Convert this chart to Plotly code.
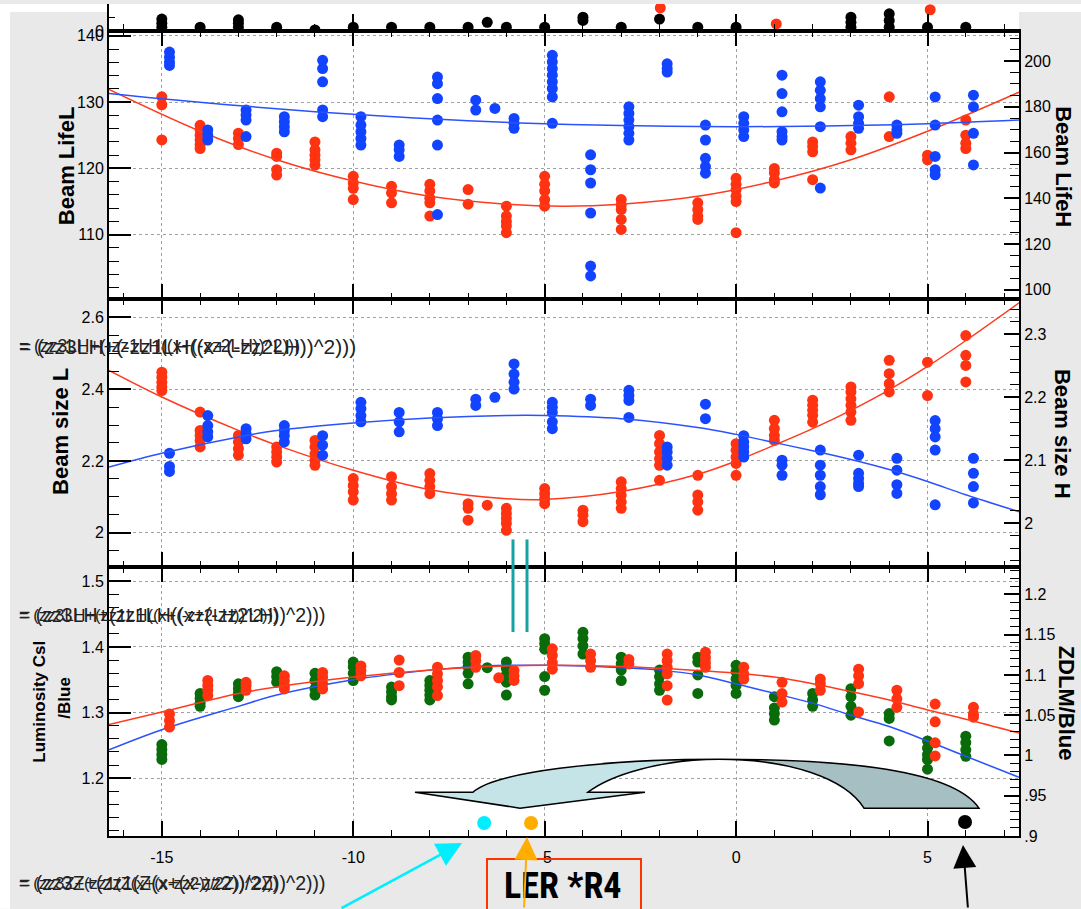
import plotly.graph_objects as go

# ---------------- canvas geometry (pixels) ----------------
W, H = 1081, 909
ML, MR, MT, MB = 109, 62, 0, 73
PW, PH = W - ML - MR, H - MT - MB


def fx(px):
    return (px - ML) / PW


def fy(py):
    return (PH + MT - py) / PH


def P(x, y):
    return f"{fx(x):.5f},{fy(y):.5f}"


def steps(a, b, s):
    out, v = [], a
    while v <= b + 1e-9:
        out.append(round(v, 4))
        v += s
    return out


# ---------------- axes ----------------
X_RANGE = [-16.38, 7.39]
X_MAJOR = [-15, -10, -5, 0, 5]
X_MAJOR_TEXT = ["-15", "-10", "-5", "0", "5"]
X_MINOR = list(range(-16, 8))

# ---------------- data: top strip ----------------
strip_black_x = [-15, -14, -13, -12, -11, -10, -9, -8, -7, -6.5, -6, -5, -4, -3, -2, -1, 0, 3, 4, 5, 6]
strip_black_y = [[4.5, 3.0, 1.5], [1.5], [4.2, 3.0, 1.5], [1.5, 0.5], [0.5], [1.5], [1.5], [1.5], [1.5],
                 [3.3], [1.5], [1.5], [5.2, 4.0], [1.5], [4.5], [1.5], [1.5], [5.2, 3.3, 1.5],
                 [6.4, 4.0, 1.5], [1.5], [1.5]]
strip_red_x = [1.05, -1.98, 5.07]
strip_red_y = [[2.7], [8.6], [7.9]]

# ---------------- data: beam lifetime ----------------
life_L_x = [-15, -14, -13, -12, -11, -10, -9, -8, -7, -6, -5, -3, -1, 0, 1, 2, 3, 4, 5, 6]
life_L_y = [
    [130.8, 129.6, 124.3],
    [126.5, 125.8, 125.0, 124.3, 123.6, 123.0],
    [125.3, 124.5, 123.6],
    [122.3, 121.8, 119.8, 119.0],
    [124.0, 122.8, 122.0, 121.3, 120.5],
    [118.8, 117.8, 117.0, 115.3],
    [117.3, 116.3, 114.8],
    [117.6, 116.6, 115.5, 114.8, 112.8],
    [116.8, 114.6],
    [114.3, 112.8, 112.0, 111.3, 110.3],
    [118.8, 117.6, 116.6, 115.3, 114.3],
    [115.3, 114.5, 113.8, 112.3, 110.8],
    [114.8, 113.8, 112.8, 112.3],
    [118.5, 117.6, 116.8, 115.8, 115.0, 110.3],
    [120.0, 119.3, 118.3, 117.8],
    [124.0, 123.3, 122.5, 118.3],
    [124.8, 123.8, 122.8],
    [130.8, 124.8],
    [122.0, 121.3],
    [127.3, 125.0, 123.8, 123.0],
]
life_H_x = [-14.8, -13.8, -12.8, -11.8, -10.8, -9.8, -8.8, -7.8, -6.8, -6.3, -5.8, -4.8, -3.8, -2.8,
            -1.8, -0.8, 0.2, 1.2, 2.2, 3.2, 4.2, 5.2, 6.2]
life_H_y = [
    [203.9, 201.7, 199.6, 198.1],
    [169.9, 167.7, 165.5],
    [178.6, 176.4, 174.2, 167.0],
    [175.7, 173.5, 171.3, 169.1],
    [200.3, 196.7, 190.9, 178.6, 175.7],
    [175.7, 172.0, 169.1, 166.2, 163.3],
    [163.3, 161.2, 158.3],
    [193.0, 190.1, 183.6, 174.2, 163.3, 132.9],
    [182.9, 178.6],
    [179.3],
    [174.9, 172.8, 170.6],
    [202.5, 199.6, 196.7, 193.8, 190.9, 188.0, 184.3, 172.8],
    [159.0, 152.5, 146.7, 133.6, 110.4, 106.1],
    [180.0, 177.1, 174.2, 171.3, 168.4, 165.5],
    [198.8, 196.7, 195.2],
    [172.0, 165.5, 157.5, 153.9, 151.0],
    [175.7, 172.8, 169.9, 167.0],
    [193.8, 185.8, 177.8, 169.1, 167.0, 165.5],
    [190.9, 187.2, 183.6, 180.0, 171.3, 144.5],
    [180.7, 175.7, 172.8, 170.6],
    [172.0, 169.9, 168.4],
    [184.3, 172.0, 158.3, 152.5, 150.3],
    [185.1, 180.0, 168.4, 154.6],
]
fit_life_L_x = [-16.38, -14, -12, -10, -8, -6, -4.5, -3, -1, 1, 3, 5, 7.39]
fit_life_L_y = [131.9, 125.6, 121.3, 118.1, 115.8, 114.6, 114.3, 114.6, 115.8, 118.1, 121.3, 125.6, 131.5]
fit_life_H_x = [-16.38, -15, -12, -10, -7, -5, -3, 0, 3, 5, 7.39]
fit_life_H_y = [185.8, 183.5, 179.1, 176.7, 173.9, 172.6, 171.8, 171.3, 171.8, 172.6, 174.2]

# ---------------- data: beam size ----------------
size_L_x = [-15, -14, -13, -12, -11, -10, -9, -8, -7, -6.5, -6, -5, -4, -3, -2, -1, 0, 1, 2, 3, 4, 5, 6]
size_L_y = [
    [2.447, 2.433, 2.419, 2.406, 2.396],
    [2.336, 2.285, 2.271, 2.257, 2.239],
    [2.271, 2.253, 2.234, 2.216],
    [2.239, 2.225, 2.211, 2.197],
    [2.257, 2.239, 2.220, 2.202, 2.188],
    [2.151, 2.132, 2.114, 2.091],
    [2.156, 2.128, 2.109, 2.091],
    [2.165, 2.146, 2.128, 2.109],
    [2.081, 2.068, 2.035],
    [2.077],
    [2.068, 2.054, 2.040, 2.026, 2.007],
    [2.123, 2.109, 2.095, 2.081],
    [2.063, 2.049, 2.031],
    [2.142, 2.123, 2.105, 2.086, 2.068],
    [2.271, 2.248, 2.225, 2.206, 2.188, 2.146],
    [2.160, 2.105, 2.086, 2.063],
    [2.248, 2.230, 2.211, 2.193, 2.160],
    [2.313, 2.290, 2.271, 2.257],
    [2.369, 2.355, 2.341, 2.327, 2.308],
    [2.406, 2.392, 2.373, 2.355, 2.336, 2.313],
    [2.480, 2.443, 2.415, 2.392],
    [2.475, 2.382],
    [2.549, 2.494, 2.466, 2.420],
]
size_H_x = [-14.8, -13.8, -12.8, -11.8, -10.8, -9.8, -8.8, -7.8, -6.8, -6.3, -5.8, -4.8, -3.8, -2.8,
            -1.8, -0.8, 0.2, 1.2, 2.2, 3.2, 4.2, 5.2, 6.2]
size_H_y = [
    [2.111, 2.090, 2.082],
    [2.171, 2.155, 2.145, 2.137],
    [2.150, 2.142, 2.134],
    [2.155, 2.147, 2.139, 2.129],
    [2.139, 2.124, 2.108],
    [2.192, 2.182, 2.171, 2.161],
    [2.176, 2.161, 2.145],
    [2.176, 2.166, 2.155],
    [2.197, 2.187],
    [2.200],
    [2.253, 2.237, 2.224, 2.213],
    [2.192, 2.184, 2.176, 2.161, 2.150],
    [2.197, 2.187],
    [2.211, 2.203, 2.195, 2.168],
    [2.121, 2.113, 2.103, 2.092],
    [2.189, 2.166],
    [2.139, 2.129, 2.121, 2.113, 2.105],
    [2.100, 2.092, 2.076],
    [2.116, 2.092, 2.076, 2.058, 2.045],
    [2.108, 2.079, 2.071, 2.063, 2.058],
    [2.103, 2.084, 2.061, 2.047],
    [2.163, 2.150, 2.137, 2.116, 2.029],
    [2.103, 2.079, 2.058, 2.032],
]
fit_size_L_x = [-16.38, -15, -13, -12, -10, -8, -6, -5, -3, -1, 0, 1, 2, 3, 4, 5, 6, 7.39]
fit_size_L_y = [2.452, 2.378, 2.285, 2.244, 2.174, 2.120, 2.095, 2.093, 2.115, 2.163, 2.200, 2.244,
                2.290, 2.341, 2.398, 2.463, 2.535, 2.640]
fit_size_H_x = [-16.38, -15, -13, -12, -10, -8, -6, -5, -3, -1, 0, 1, 2, 3, 4, 5, 6, 7.39]
fit_size_H_y = [2.089, 2.111, 2.137, 2.147, 2.159, 2.167, 2.171, 2.171, 2.166, 2.152, 2.141, 2.128,
                2.115, 2.101, 2.085, 2.066, 2.045, 2.018]

# ---------------- data: luminosity ----------------
lum_csi_x = [-14.8, -13.8, -12.8, -11.8, -10.8, -9.8, -8.8, -7.8, -6.8, -6.2, -5.8, -4.8, -3.8, -2.8,
             -1.8, -0.8, 0.2, 1.2, 2.2, 3.2, 4.2, 5.2, 6.2]
lum_csi_y = [
    [1.298, 1.288, 1.278],
    [1.349, 1.341, 1.334, 1.326],
    [1.346, 1.341, 1.334],
    [1.356, 1.349, 1.341, 1.336],
    [1.361, 1.354, 1.344, 1.336],
    [1.371, 1.364, 1.356],
    [1.380, 1.361, 1.341],
    [1.369, 1.359, 1.349, 1.339, 1.326],
    [1.387, 1.379, 1.369],
    [1.353],
    [1.364, 1.356, 1.349],
    [1.397, 1.387, 1.376, 1.366],
    [1.389, 1.379, 1.369],
    [1.381, 1.374],
    [1.389, 1.379, 1.369, 1.359, 1.341, 1.319],
    [1.392, 1.384, 1.376, 1.369],
    [1.369, 1.359, 1.351],
    [1.346, 1.329, 1.316],
    [1.351, 1.344, 1.334],
    [1.366, 1.356, 1.344, 1.301],
    [1.334, 1.321, 1.308],
    [1.313, 1.286, 1.254, 1.234],
    [1.308, 1.298, 1.293],
]
lum_zdlm_x = [-15, -14, -13, -12, -11, -10, -9, -8, -7, -6.5, -6, -5, -4, -3, -2, -1, 0, 1, 2, 3, 4, 5, 6]
lum_zdlm_y = [
    [1.0135, 1.0074, 1.0012, 0.9951],
    [1.077, 1.071, 1.065, 1.061],
    [1.089, 1.083, 1.077, 1.073],
    [1.104, 1.098, 1.091],
    [1.102, 1.093, 1.083, 1.075],
    [1.116, 1.110, 1.102, 1.093],
    [1.085, 1.079, 1.073, 1.069],
    [1.093, 1.087, 1.081, 1.075, 1.069],
    [1.122, 1.116, 1.110, 1.102, 1.089],
    [1.109],
    [1.116, 1.108, 1.100, 1.091, 1.075],
    [1.145, 1.139, 1.132, 1.098, 1.081],
    [1.153, 1.145, 1.136, 1.126],
    [1.122, 1.114, 1.106, 1.093],
    [1.106, 1.098, 1.089, 1.081],
    [1.122, 1.116, 1.100, 1.077],
    [1.112, 1.104, 1.095, 1.087, 1.077],
    [1.073, 1.059, 1.052, 1.044],
    [1.077, 1.069, 1.061],
    [1.083, 1.073, 1.061, 1.050],
    [1.052, 1.046, 1.018],
    [1.018, 1.009, 1.001, 0.995, 0.983],
    [1.024, 1.016, 1.007, 0.999],
]
fit_csi_x = [-16.38, -15, -13, -12, -10, -8, -6, -5, -3, -1, 0, 1, 2, 3, 4, 5, 6, 7.39]
fit_csi_y = [1.282, 1.301, 1.329, 1.339, 1.354, 1.365, 1.371, 1.372, 1.370, 1.364, 1.360, 1.354,
             1.344, 1.332, 1.319, 1.304, 1.290, 1.269]
fit_zdlm_x = [-16.38, -15, -13, -12, -10, -8, -7, -6, -5, -4, -3, -2, -1, 0, 1, 2, 3, 4, 5, 6, 7.39]
fit_zdlm_y = [1.007, 1.032, 1.061, 1.075, 1.094, 1.106, 1.110, 1.112, 1.112, 1.111, 1.109, 1.106,
              1.100, 1.089, 1.077, 1.065, 1.050, 1.036, 1.018, 0.999, 0.973]

# marker dots along the bottom of the luminosity panel
flag_x = [-6.58, -5.355, 5.98]
flag_y = [1.1318, 1.1318, 1.1333]
flag_colors = ["#00eeff", "#ffad00", "#000000"]

RED, BLUE, GREEN = "#ff3311", "#1244ff", "#0a6b0a"
RED_LINE, BLUE_LINE = "#ff3b1f", "#2a52ff"

fig = go.Figure()


def add_points(xs, ys, color, xa, ya, size=11):
    px_, py_ = [], []
    for x, vals in zip(xs, ys):
        for v in vals:
            px_.append(x)
            py_.append(v)
    fig.add_trace(go.Scatter(x=px_, y=py_, mode="markers", xaxis=xa, yaxis=ya,
                             marker=dict(color=color, size=size, line=dict(width=0)),
                             showlegend=False, hoverinfo="skip"))


def add_fit(xs, ys, color, xa, ya):
    fig.add_trace(go.Scatter(x=xs, y=ys, mode="lines", xaxis=xa, yaxis=ya,
                             line=dict(color=color, width=1.5, shape="spline", smoothing=1.0),
                             showlegend=False, hoverinfo="skip"))


# top strip
add_points(strip_black_x, strip_black_y, "black", "x", "y")
add_points(strip_red_x, strip_red_y, RED, "x", "y")
# lifetime panel
add_points(life_L_x, life_L_y, RED, "x2", "y3")
add_fit(fit_life_L_x, fit_life_L_y, RED_LINE, "x2", "y3")
add_points(life_H_x, life_H_y, BLUE, "x2", "y4")
add_fit(fit_life_H_x, fit_life_H_y, BLUE_LINE, "x2", "y4")
# beam size panel
add_points(size_L_x, size_L_y, RED, "x3", "y5")
add_fit(fit_size_L_x, fit_size_L_y, RED_LINE, "x3", "y5")
add_points(size_H_x, size_H_y, BLUE, "x3", "y6")
add_fit(fit_size_H_x, fit_size_H_y, BLUE_LINE, "x3", "y6")
# luminosity panel (ZDLM is the base axis, CsI overlays it)
add_points(lum_zdlm_x, lum_zdlm_y, GREEN, "x4", "y8")
add_fit(fit_zdlm_x, fit_zdlm_y, BLUE_LINE, "x4", "y8")
add_points(lum_csi_x, lum_csi_y, RED, "x4", "y7")
add_fit(fit_csi_x, fit_csi_y, RED_LINE, "x4", "y7")
fig.add_trace(go.Scatter(x=flag_x, y=flag_y, mode="markers", xaxis="x4", yaxis="y7",
                         marker=dict(color=flag_colors, size=14, line=dict(width=0)),
                         showlegend=False, hoverinfo="skip", cliponaxis=False))

# ---------------- layout ----------------
FONT = "Liberation Sans, Arial, Helvetica, sans-serif"
AX_FONT = dict(family=FONT, size=16, color="black")
GRID = dict(gridcolor="#a0a0a0", griddash="dot", gridwidth=1)


def xcfg(anchor, labels=False, grid=True, mirror="ticks", ticklen=15, minorlen=6):
    return dict(domain=[0, 1], range=X_RANGE, anchor=anchor, tickmode="array",
                tickvals=X_MAJOR, ticktext=X_MAJOR_TEXT, showticklabels=labels,
                ticks="inside", ticklen=ticklen, tickwidth=1.5, tickcolor="black",
                minor=dict(tickmode="array", tickvals=X_MINOR, ticks="inside", ticklen=minorlen,
                           tickwidth=1.2, tickcolor="black", showgrid=False),
                showgrid=grid, zeroline=False, mirror=mirror, tickfont=AX_FONT,
                showline=True, linecolor="black", linewidth=2, ticklabelstandoff=6, **GRID)


def ycfg(domain, rng, vals, texts, minor_vals, side="left", anchor="x2", overlay=None,
         grid=False, ticklen=22, minorlen=10):
    d = dict(range=rng, anchor=anchor, side=side, tickmode="array", tickvals=vals, ticktext=texts,
             ticks="inside", ticklen=ticklen, tickwidth=1.5, tickcolor="black",
             minor=dict(tickmode="array", tickvals=minor_vals, ticks="inside", ticklen=minorlen,
                        tickwidth=1.2, tickcolor="black", showgrid=False),
             showgrid=grid, zeroline=False, tickfont=AX_FONT,
             showline=True, linecolor="black", linewidth=2, **GRID)
    if overlay:
        d["overlaying"] = overlay
    else:
        d["domain"] = domain
    return d


D_STRIP = [fy(27.5), 1.0]
D_P1 = [fy(296), fy(27.5)]
D_P2 = [fy(566), fy(296)]
D_P3 = [0.0, fy(566)]

fig.update_layout(
    width=W, height=H, autosize=False,
    margin=dict(l=ML, r=MR, t=MT, b=MB, pad=0),
    paper_bgcolor="#e9e9e9", plot_bgcolor="white",
    showlegend=False, hovermode=False,
    xaxis=xcfg("y", grid=False, mirror=False, ticklen=17, minorlen=7),
    xaxis2=xcfg("y3"),
    xaxis3=xcfg("y5"),
    xaxis4=xcfg("y8", labels=True),
    yaxis=ycfg(D_STRIP, [0, 10], [0], ["0"], [5], anchor="x", ticklen=10, minorlen=6),
    yaxis2=ycfg(None, [0, 10], [0], ["0"], [5], side="right", anchor="x", overlay="y",
                ticklen=10, minorlen=6),
    yaxis3=ycfg(D_P1, [100.36, 140.67], [110, 120, 130, 140], ["110", "120", "130", "140"],
                steps(102, 140, 2), grid=True),
    yaxis4=ycfg(None, [96.2, 212.96], steps(100, 200, 20), ["100", "120", "140", "160", "180", "200"],
                steps(100, 210, 5), side="right", overlay="y3", ticklen=15, minorlen=9),
    yaxis5=ycfg(D_P2, [1.904, 2.652], [2.0, 2.2, 2.4, 2.6], ["2", "2.2", "2.4", "2.6"],
                steps(1.95, 2.65, 0.05), anchor="x3", grid=True),
    yaxis6=ycfg(None, [1.9296, 2.357], [2.0, 2.1, 2.2, 2.3], ["2", "2.1", "2.2", "2.3"],
                steps(1.94, 2.34, 0.02), side="right", anchor="x3", overlay="y5",
                ticklen=15, minorlen=9),
    yaxis8=ycfg(D_P3, [0.9, 1.2337], steps(0.9, 1.2, 0.05),
                [".9", ".95", "1", "1.05", "1.1", "1.15", "1.2"],
                steps(0.91, 1.23, 0.01), side="right", anchor="x4", ticklen=15, minorlen=9),
    yaxis7=ycfg(None, [1.1121, 1.5212], [1.2, 1.3, 1.4, 1.5], ["1.2", "1.3", "1.4", "1.5"],
                steps(1.12, 1.52, 0.02), anchor="x4", overlay="y8", grid=True),
)

shapes = [
    # white border along the top and left edges of the canvas
    dict(type="rect", xref="paper", yref="paper", x0=fx(0), x1=fx(W), y0=fy(8), y1=fy(0),
         fillcolor="white", line=dict(width=0), layer="below"),
    dict(type="rect", xref="paper", yref="paper", x0=fx(0), x1=fx(10), y0=fy(H), y1=fy(0),
         fillcolor="white", line=dict(width=0), layer="below"),
    # twisted curved arrow inside the luminosity panel
    dict(type="path", xref="paper", yref="paper",
         path=(f"M {P(415, 792)} L {P(473, 792)} C {P(495, 772)} {P(600, 759)} {P(719, 759)} "
               f"C {P(660, 759)} {P(610, 775)} {P(588, 792)} L {P(645, 792)} L {P(520, 808)} Z"),
         fillcolor="#c4e4e7", line=dict(color="black", width=1.5)),
    dict(type="path", xref="paper", yref="paper",
         path=(f"M {P(719, 759)} C {P(820, 759)} {P(950, 765)} {P(979, 808)} L {P(864, 808)} "
               f"C {P(845, 778)} {P(790, 759)} {P(719, 759)} Z"),
         fillcolor="#a6bfc3", line=dict(color="black", width=1.5)),
    # double teal marker lines
    dict(type="line", xref="paper", yref="paper", x0=fx(513), x1=fx(513), y0=fy(538), y1=fy(631),
         line=dict(color="#17a3a3", width=3)),
    dict(type="line", xref="paper", yref="paper", x0=fx(527), x1=fx(527), y0=fy(538), y1=fy(631),
         line=dict(color="#17a3a3", width=3)),
    # label frame
    dict(type="rect", xref="paper", yref="paper", x0=fx(487), x1=fx(641), y0=fy(920), y1=fy(859),
         fillcolor="rgba(0,0,0,0)", line=dict(color="#ff3300", width=2)),
]

annotations = []


def text(x, y, s, size, angle=0, bold=False, anchor="center", color="black", family=FONT):
    annotations.append(dict(xref="paper", yref="paper", x=fx(x), y=fy(y),
                            text=f"<b>{s}</b>" if bold else s, showarrow=False,
                            textangle=angle, xanchor=anchor, yanchor="middle",
                            font=dict(family=family, size=size, color=color)))


# axis titles
text(66, 163, "Beam LifeL", 22, -90, True)
text(1064, 163, "Beam LifeH", 22, 90, True)
text(61, 430, "Beam size L", 22, -90, True)
text(1062, 432, "Beam size H", 22, 90, True)
text(40, 701, "Luminosity CsI", 17, -90, True)
text(65, 697, "/Blue", 17, -90, True)
text(1066, 702, "ZDLM/Blue", 22, 90, True)

# overprinted fit formulas
for sz in (17.5, 21):
    text(17, 344, "= (zz3LH+(-zz1LH((x+(-zz2LH))^2)))", sz, anchor="left", color="#222222")
for sz in (16.5, 19.5):
    text(17, 614, "= (zz3LH+(zz1LH((x+(-zz2LH))^2)))", sz, anchor="left", color="#222222")
for sz in (16.5, 19.5):
    text(17, 883, "= (zz3Z+(zz1(Z(x+(x-zz2))/2Z))^2)))", sz, anchor="left", color="#222222")

# boxed label
text(563, 886, "LER *R4", 36, 0, True, family="Roboto Condensed, Roboto, Liberation Sans, sans-serif")


def arrow(tipx, tipy, tailx, taily, color, width, size):
    annotations.append(dict(xref="paper", yref="paper", x=fx(tipx), y=fy(tipy), text="",
                            showarrow=True, ax=tailx - tipx, ay=taily - tipy,
                            arrowhead=2, arrowsize=size, arrowwidth=width, arrowcolor=color))


arrow(462, 843, 340, 912, "#00eeff", 2.5, 2.0)
arrow(527, 837, 524, 912, "#ffad00", 2, 2.3)
arrow(963, 845, 968, 912, "black", 2, 2.3)

fig.update_layout(shapes=shapes, annotations=annotations)

fig.write_html("out.html")
